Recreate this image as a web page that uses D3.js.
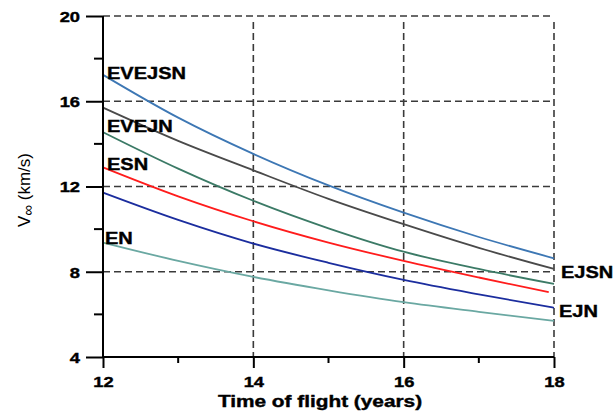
<!DOCTYPE html>
<html><head><meta charset="utf-8">
<script src="https://cdn.jsdelivr.net/npm/d3@7"></script>
<style>body{margin:0;background:#fff}svg{display:block}</style>
</head><body>
<svg id="c" width="615" height="415"></svg>
<script>
const years = [12, 13, 14, 15, 16, 17, 18];
const redYears = [12, 13, 14, 15, 16, 17, 17.93];
const EVEJSN = [17.24, 15.23, 13.53, 12.05, 10.77, 9.63, 8.63];
const EJSN   = [15.70, 14.14, 12.76, 11.42, 10.23, 9.12, 8.13];
const EVEJN  = [14.55, 12.84, 11.33, 10.04, 8.94, 8.13, 7.43];
const ESN    = [12.90, 11.54, 10.37, 9.37, 8.51, 7.73, 7.04];
const EJN    = [11.71, 10.43, 9.32, 8.42, 7.62, 6.94, 6.31];
const EN     = [9.37, 8.51, 7.76, 7.13, 6.57, 6.12, 5.70];
const yMajor = [4, 8, 12, 16, 20];
const yMinor = [6, 10, 14, 18];
const xMajor = [12, 14, 16, 18];
const xMinor = [13, 15, 17];

const svg = d3.select("#c");
const x = d3.scaleLinear().domain([12, 18]).range([103, 554]);
const y = d3.scaleLinear().domain([4, 20]).range([357, 16]);
const FONT = "'Liberation Sans', Arial, sans-serif";

function stretch(sel, f) {
  sel.each(function () {
    const w = this.getComputedTextLength();
    d3.select(this).attr("textLength", w * f).attr("lengthAdjust", "spacingAndGlyphs");
  });
}

// grid
const grid = svg.append("g").attr("stroke", "#3a3a3a").attr("stroke-width", 1.6)
  .attr("stroke-dasharray", "7,4").attr("fill", "none");
[8, 12, 16, 20].forEach(v => grid.append("line")
  .attr("x1", x(12)).attr("x2", x(18) - 3).attr("y1", y(v)).attr("y2", y(v)));
[14, 16, 18].forEach(v => grid.append("line")
  .attr("x1", x(v)).attr("x2", x(v)).attr("y1", y(20) + 6).attr("y2", y(4)));

// series
const series = [
  {name: "EVEJSN", xs: years, v: EVEJSN, color: "#3d77b4"},
  {name: "EJSN", xs: years, v: EJSN, color: "#4a4a4a"},
  {name: "EVEJN", xs: years, v: EVEJN, color: "#3b7a66"},
  {name: "ESN", xs: redYears, v: ESN, color: "#ff1c1c"},
  {name: "EJN", xs: years, v: EJN, color: "#1b2d9e"},
  {name: "EN", xs: years, v: EN, color: "#6aa8a2"}
];
const line = d3.line().x(d => x(d[0])).y(d => y(d[1])).curve(d3.curveMonotoneX);
svg.append("g").selectAll("path").data(series).join("path")
  .attr("d", s => line(s.xs.map((t, i) => [t, s.v[i]])))
  .attr("fill", "none").attr("stroke", s => s.color).attr("stroke-width", 1.8);

// axes
const yAxis = svg.append("g").attr("transform", `translate(${x(12)},0)`)
  .call(d3.axisLeft(y).tickValues(yMajor).tickSize(17).tickPadding(6).tickFormat(d3.format("d")));
const xAxis = svg.append("g").attr("transform", `translate(0,${y(4)})`)
  .call(d3.axisBottom(x).tickValues(xMajor).tickSize(11).tickPadding(8).tickFormat(d3.format("d")));
[yAxis, xAxis].forEach(a => {
  a.select(".domain").remove();
  a.selectAll("line").attr("stroke", "#000").attr("stroke-width", 2);
  a.selectAll("text").attr("font-family", FONT).attr("font-weight", "bold")
    .attr("font-size", 15).attr("fill", "#000").attr("stroke", "#000").attr("stroke-width", 0.4);
});
yAxis.selectAll("text").attr("dy", "0.36em");
stretch(yAxis.selectAll("text"), 1.22);
stretch(xAxis.selectAll("text"), 1.22);

svg.append("g").attr("stroke", "#000").attr("stroke-width", 2).selectAll("line")
  .data(yMinor).join("line").attr("x1", x(12) - 9).attr("x2", x(12)).attr("y1", d => y(d)).attr("y2", d => y(d));
svg.append("g").attr("stroke", "#000").attr("stroke-width", 2).selectAll("line")
  .data(xMinor).join("line").attr("x1", d => x(d)).attr("x2", d => x(d)).attr("y1", y(4)).attr("y2", y(4) + 6);
svg.append("line").attr("x1", x(12)).attr("x2", x(12)).attr("y1", y(20)).attr("y2", y(4))
  .attr("stroke", "#000").attr("stroke-width", 2);
svg.append("line").attr("x1", x(12) - 1).attr("x2", x(18)).attr("y1", y(4)).attr("y2", y(4))
  .attr("stroke", "#000").attr("stroke-width", 2);

// series labels
const labels = [
  {t: "EVEJSN", xv: 12, yv: 17.05, dx: 4},
  {t: "EVEJN", xv: 12, yv: 14.55, dx: 4},
  {t: "ESN", xv: 12, yv: 12.78, dx: 4},
  {t: "EN", xv: 12, yv: 9.32, dx: 2},
  {t: "EJSN", xv: 18, yv: 7.69, dx: 7},
  {t: "EJN", xv: 18, yv: 5.86, dx: 5}
];
const lab = svg.append("g").selectAll("text").data(labels).join("text")
  .attr("x", d => x(d.xv) + d.dx).attr("y", d => y(d.yv))
  .attr("font-family", FONT).attr("font-weight", "bold").attr("font-size", 16)
  .attr("fill", "#000").attr("stroke", "#000").attr("stroke-width", 0.4).text(d => d.t);
stretch(lab, 1.25);

// axis titles
const xt = svg.append("text").attr("x", 320).attr("y", 407).attr("text-anchor", "middle")
  .attr("font-family", FONT).attr("font-weight", "bold").attr("font-size", 16)
  .attr("stroke", "#000").attr("stroke-width", 0.4).text("Time of flight (years)");
stretch(xt, 1.3);

const yt = svg.append("text").attr("transform", "translate(30,190) rotate(-90)")
  .attr("text-anchor", "middle").attr("font-family", FONT).attr("font-size", 17);
yt.append("tspan").text("V");
yt.append("tspan").attr("font-size", 15).attr("dy", 3).text("∞");
yt.append("tspan").attr("dy", -3).text(" (km/s)");
</script>
</body></html>
